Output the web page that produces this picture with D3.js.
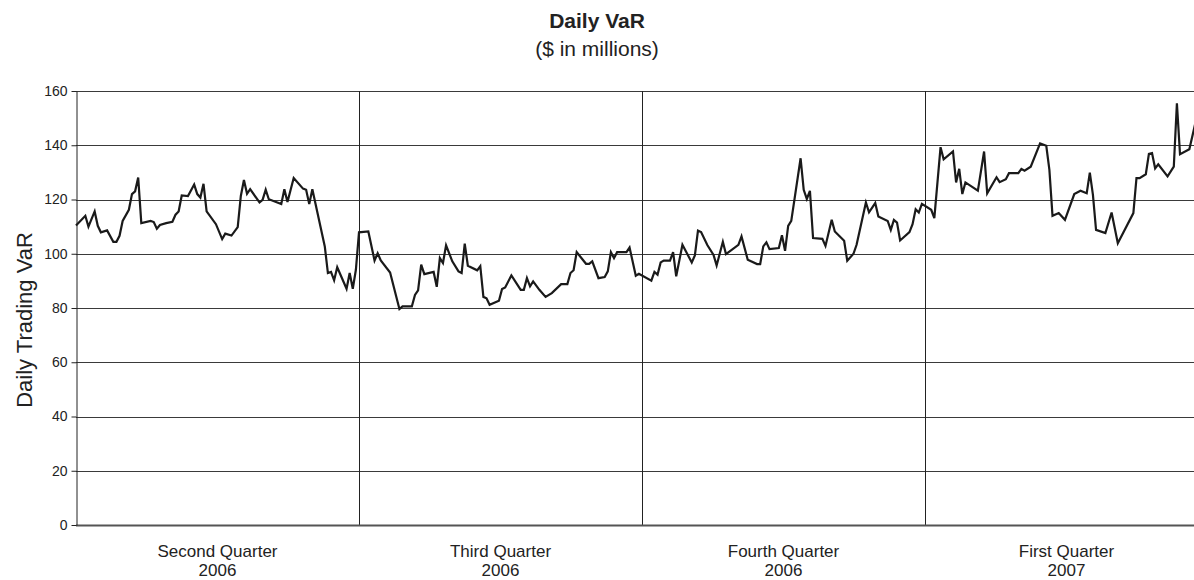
<!DOCTYPE html>
<html>
<head>
<meta charset="utf-8">
<script src="https://cdn.jsdelivr.net/npm/d3@7"></script>
<style>
    body { margin: 0; background: #fff; }
    text { font-family: "Liberation Sans", Arial, sans-serif; fill: #222; }
</style>
</head>
<body>
<svg id="chart"></svg>
<script>
// trading days counted from start of Q2 2006 (91 per quarter on this axis)
const days = [
    0, 3, 4, 6, 7, 8, 10, 12, 13, 14, 15, 17, 18, 19, 20, 21, 24, 25, 26, 27, 29, 31, 32, 33, 34, 36, 38, 39, 40, 41,
    42, 45, 47, 48, 50, 52, 53, 54, 55, 56, 59, 60, 61, 62, 66, 67, 68, 70, 73, 74, 75, 76, 80, 81, 82, 83, 84, 87, 88, 89, 90,
    91, 94, 96, 97, 98, 101, 104, 105, 108, 109, 110, 111, 112, 115, 116, 117, 118, 119, 121, 123, 124, 125, 126, 129, 130,
    131, 132, 133, 136, 137, 138, 140, 143, 144, 145, 146, 147, 149, 151, 153, 156, 158, 159, 160, 161, 164, 165, 166, 168,
    170, 171, 172, 173, 174, 177, 178, 180, 181,
    185, 186, 187, 188, 189, 191, 192, 193, 195, 198, 199, 200, 201, 203, 205, 206, 208, 209, 213, 214, 216, 219, 220, 221,
    222, 223, 226, 227, 228, 229, 230, 233, 234, 235, 236, 237, 240, 241, 243, 244, 247, 248, 250, 251, 254, 255, 257, 258,
    261, 262, 263, 264, 265, 268, 269, 270, 271, 272,
    275, 276, 278, 279, 282, 283, 284, 285, 286, 290, 292, 293, 296, 297, 299, 300, 303, 304, 305, 307, 310, 312, 313, 314,
    316, 318, 321, 323, 325, 326, 327, 328, 331, 333, 335, 340, 341, 342, 344, 345, 346, 347, 348, 351, 353, 354, 355, 358, 360
];

const var_values = [
    110.4, 114.0, 110.0, 115.6, 110.3, 107.9, 108.6, 104.4, 104.4, 106.6, 112.1, 116.2, 122.0, 123.0, 128.1, 111.3, 112.1,
    111.7, 109.2, 110.6, 111.3, 111.8, 114.4, 115.6, 121.5, 121.3, 125.5, 122.0, 120.7, 125.8,
    115.6, 110.9, 105.4, 107.4, 106.7, 109.8, 121.3, 127.2, 122.1, 123.8, 118.9, 119.9, 123.6, 120.1, 118.3, 123.8, 119.1,
    127.9, 124.0, 123.6, 118.3, 123.8, 102.7, 92.9, 93.3, 90.2, 95.0, 87.1, 92.9, 87.1, 94.1,
    107.9, 108.2, 97.5, 100.2, 97.5, 93.1, 79.6, 80.6, 80.6, 84.8, 86.5, 96.0, 92.5, 93.3, 87.8, 98.4, 96.6, 103.1, 97.2,
    93.5, 92.9, 103.7, 95.6, 93.9, 95.4,
    84.1, 83.6, 81.2, 82.7, 87.0, 87.6, 92.0, 86.7, 86.7, 91.0, 88.0, 89.8, 86.7, 84.1, 85.5, 88.8, 88.8, 92.9, 93.9, 100.6,
    96.3, 96.3, 97.2, 91.0,
    91.4, 93.5, 100.6, 98.4, 100.6, 100.6, 102.3, 91.9, 92.6,
    90.1, 93.3, 92.3, 96.8, 97.5, 97.5, 100.6, 91.7, 103.3, 96.8, 99.4, 108.5, 108.0, 103.2, 99.6, 95.7, 104.4, 99.9, 103.3,
    106.4, 97.8, 96.2, 96.2, 102.7,
    104.2, 101.7, 102.1, 106.8, 101.1, 110.3, 112.1, 135.2, 123.6, 120.2, 123.2, 105.8, 105.5, 102.9, 112.5, 108.2, 104.8,
    97.4, 100.0, 103.3, 118.9, 115.3, 118.7, 113.7,
    112.1, 108.8, 112.5, 111.5, 104.9, 108.0, 110.9, 116.4, 115.2, 118.4,
    116.2, 113.1, 139.3, 134.8, 137.7, 126.3, 131.3, 122.0, 126.3, 123.3, 137.7, 122.3, 128.2, 126.4, 127.5, 129.7, 129.7,
    131.3, 130.6, 132.1, 140.7, 139.8, 130.9, 114.0,
    115.0, 112.5, 122.0, 123.2, 122.3, 129.9, 121.7, 108.8, 107.6, 115.2, 103.9, 115.0, 127.9, 127.9, 129.3, 136.8, 137.1,
    131.5, 133.0, 128.5, 132.1, 155.5, 136.7, 138.5, 148.5
];

const quarter_bounds = [0, 91, 182, 273, 364];
const quarter_names = ['Second Quarter', 'Third Quarter', 'Fourth Quarter', 'First Quarter'];
const quarter_years = ['2006', '2006', '2006', '2007'];
const y_ticks = [0, 20, 40, 60, 80, 100, 120, 140, 160];

class VarChart {
    constructor (config, data) {
        this.config = {
            parent: config.parent,
            width: config.width || 1194,
            height: config.height || 580,
            margin: config.margin || {top: 91, right: -14, bottom: 55, left: 76},
            title: config.title || '',
            subtitle: config.subtitle || '',
            ylabel: config.ylabel || ''
        };
        this.data = data;
        this.init();
    }

    init() {
        let self = this;

        self.svg = d3.select(self.config.parent)
            .attr('width', self.config.width)
            .attr('height', self.config.height);

        self.chart = self.svg.append('g')
            .attr('transform', `translate(${self.config.margin.left}, ${self.config.margin.top})`);

        self.inner_width = self.config.width - self.config.margin.left - self.config.margin.right;
        self.inner_height = self.config.height - self.config.margin.top - self.config.margin.bottom;

        self.xscale = d3.scaleLinear()
            .domain([quarter_bounds[0], quarter_bounds[quarter_bounds.length - 1]])
            .range([0, self.inner_width]);

        self.yscale = d3.scaleLinear()
            .domain([0, 160])
            .range([self.inner_height, 0]);

        self.svg.append('text')
            .style('font-size', '21px')
            .style('font-weight', 'bold')
            .attr('text-anchor', 'middle')
            .attr('x', 597)
            .attr('y', 28)
            .text(self.config.title);

        self.svg.append('text')
            .style('font-size', '21px')
            .attr('text-anchor', 'middle')
            .attr('x', 597)
            .attr('y', 56)
            .text(self.config.subtitle);

        // y label sits a little below the plot middle, as in the original
        self.svg.append('text')
            .style('font-size', '22px')
            .attr('transform', 'rotate(-90)')
            .attr('x', -320)
            .attr('y', 32)
            .attr('text-anchor', 'middle')
            .text(self.config.ylabel);
    }

    render() {
        let self = this;

        // horizontal grid
        self.chart.append('g')
            .selectAll('line')
            .data(y_ticks.filter(d => d > 0))
            .join('line')
            .attr('x1', 0)
            .attr('x2', self.config.width)
            .attr('y1', d => Math.round(self.yscale(d)) + 0.5)
            .attr('y2', d => Math.round(self.yscale(d)) + 0.5)
            .attr('stroke', '#3a3a3a')
            .attr('stroke-width', 1);

        // quarter dividers
        self.chart.append('g')
            .selectAll('line')
            .data(quarter_bounds.slice(1, -1))
            .join('line')
            .attr('x1', d => Math.round(self.xscale(d)) + 0.5)
            .attr('x2', d => Math.round(self.xscale(d)) + 0.5)
            .attr('y1', 0)
            .attr('y2', self.inner_height)
            .attr('stroke', '#222')
            .attr('stroke-width', 1);

        // x axis baseline
        self.chart.append('line')
            .attr('x1', 0)
            .attr('x2', self.config.width)
            .attr('y1', self.inner_height + 0.5)
            .attr('y2', self.inner_height + 0.5)
            .attr('stroke', '#555')
            .attr('stroke-width', 2);

        const yaxis = d3.axisLeft(self.yscale)
            .tickValues(y_ticks)
            .tickSize(5)
            .tickPadding(4)
            .tickSizeOuter(0);

        const yaxis_group = self.chart.append('g')
            .attr('transform', 'translate(0.5, 0)')
            .call(yaxis);
        yaxis_group.select('.domain').attr('stroke', '#222');
        yaxis_group.selectAll('.tick line').attr('stroke', '#222');
        yaxis_group.selectAll('.tick text')
            .style('font-size', '14px')
            .style('font-family', '"Liberation Sans", Arial, sans-serif')
            .attr('fill', '#222');

        // quarter labels
        const mids = quarter_names.map((q, i) => (quarter_bounds[i] + quarter_bounds[i + 1]) / 2);
        const labels = self.chart.append('g')
            .selectAll('text')
            .data(quarter_names)
            .join('text')
            .style('font-size', '17px')
            .attr('text-anchor', 'middle')
            .attr('x', (d, i) => self.xscale(mids[i]))
            .attr('y', self.inner_height + 32);
        labels.append('tspan')
            .attr('x', (d, i) => self.xscale(mids[i]))
            .text(d => d);
        labels.append('tspan')
            .attr('x', (d, i) => self.xscale(mids[i]))
            .attr('dy', 19)
            .text((d, i) => quarter_years[i]);

        const line = d3.line()
            .x(d => self.xscale(d.day))
            .y(d => self.yscale(d.value));

        self.chart.append('path')
            .attr('d', line(self.data))
            .attr('stroke', '#1a1a1a')
            .attr('stroke-width', 2.2)
            .attr('stroke-linejoin', 'miter')
            .attr('fill', 'none');
    }
}

const series = days.map((d, i) => ({day: d, value: var_values[i]}));

const chart = new VarChart({
    parent: '#chart',
    title: 'Daily VaR',
    subtitle: '($ in millions)',
    ylabel: 'Daily Trading VaR'
}, series);
chart.render();
</script>
</body>
</html>
